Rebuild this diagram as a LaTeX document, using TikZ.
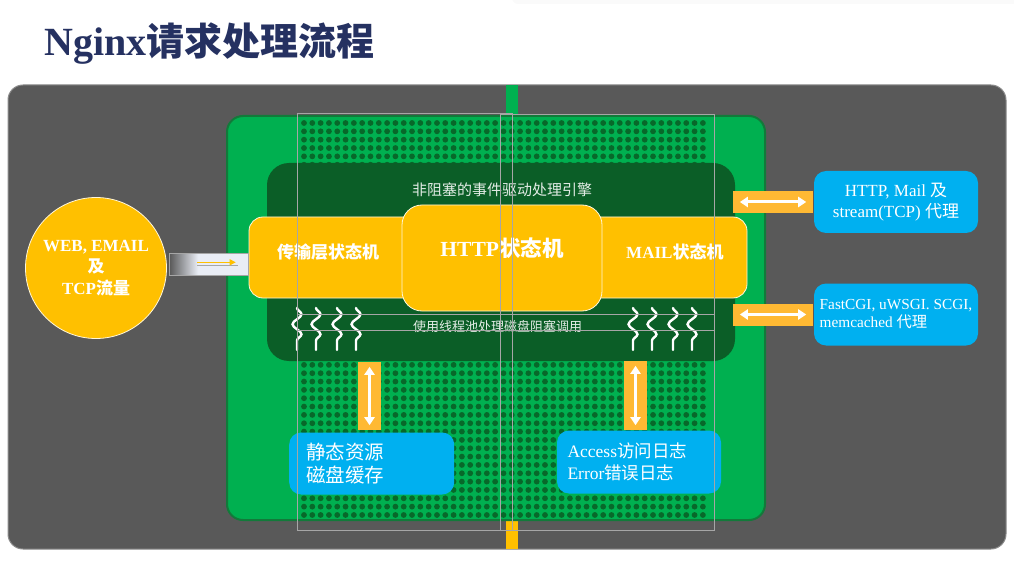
\documentclass[tikz,border=0pt]{standalone}
\usepackage{fontspec}
\setmainfont{Liberation Serif}
\newfontfamily\cjk{Noto Sans CJK SC}
\usepackage{xcolor}
\usepackage{tikz}
\usetikzlibrary{arrows.meta,shapes,decorations.pathmorphing,positioning}

\definecolor{bggray}{HTML}{595959}
\definecolor{nggreen}{HTML}{00B050}
\definecolor{edgegreen}{HTML}{127A3A}
\definecolor{dotgreen}{HTML}{08682A}
\definecolor{panelgreen}{HTML}{0B5E27}
\definecolor{ngyellow}{HTML}{FFC000}
\definecolor{barorange}{HTML}{FFB933}
\definecolor{ngblue}{HTML}{00B0F0}
\definecolor{titleblue}{HTML}{253161}
\definecolor{guidegray}{HTML}{A6A6A6}
\definecolor{lightbar}{HTML}{E9EDF5}

\pgfdeclarehorizontalshading{fadebar}{100bp}{color(0bp)=(bggray);
  color(25bp)=(bggray); color(43bp)=(lightbar); color(100bp)=(lightbar)}

\tikzset{
  ymachine/.style={fill=ngyellow, draw=white!85!ngyellow, line width=0.8pt,
    rounded corners=14pt, text=white},
  bluebox/.style={fill=ngblue, rounded corners=12pt, text=white},
  orbar/.style={fill=barorange, inner sep=0pt},
  dblarrow/.style={white, line width=3pt,
    {Triangle[width=10pt,length=8pt]}-{Triangle[width=10pt,length=8pt]}},
  wave/.style={white, line width=2.4pt, line cap=round, decorate,
    decoration={snake, segment length=20pt, amplitude=4.5pt}},
  guide/.style={guidegray, line width=0.8pt},
}

\begin{document}
\begin{tikzpicture}[x=1pt, y=-1pt]
    \useasboundingbox (0,0) rectangle (1014,561);
    % title and faint shadow top right
    \fill[black!2, rounded corners=6pt] (512,-8) rectangle (1020,4);
    \node[anchor=base west, text=titleblue, font=\bfseries] (title) at (41,56)
        {\fontsize{40}{48}\selectfont Nginx{\cjk\fontsize{38}{46}\selectfont 请求处理流程}};
    % dark background
    \filldraw[fill=bggray, draw=black!45, line width=1pt, rounded corners=15pt]
        (8,85) rectangle (1006,549);
    \fill[nggreen] (506,85) rectangle (518,116);
    \fill[ngyellow] (506,520) rectangle (518,549);
    % green board with dots
    \filldraw[fill=nggreen, draw=edgegreen, line width=2pt, rounded corners=16pt]
        (227,116) rectangle (765,520);
    \foreach \i in {0,...,48}
    \foreach \j in {0,...,47}
        \fill[dotgreen] ({304+8.31*\i},{123+8.34*\j}) circle (2.9pt);
    % event engine panel
    \fill[panelgreen, rounded corners=22pt] (267,163) rectangle (735,361);
    \node[text=white!88!panelgreen, font=\fontsize{15}{18}\selectfont\cjk]
        (enginetitle) at (502,190) {非阻塞的事件驱动处理引擎};
    \node[text=white!88!panelgreen, font=\fontsize{13}{16}\selectfont\cjk]
        (pooltitle) at (497.5,327) {使用线程池处理磁盘阻塞调用};
    \foreach \x in {297,316,337,356,633,652,673,692}
        \draw[wave] (\x,308) -- (\x,350);
    % state machines
    \node[ymachine, minimum width=171pt, minimum height=81pt, text width=115pt,
        inner xsep=28pt, align=left, text depth=13pt,
        font=\fontsize{17}{20}\selectfont\bfseries\cjk] (transport) at (334.5,257.5) {传输层状态机};
    \node[ymachine, minimum width=162pt, minimum height=81pt, text width=115pt,
        inner xsep=23.5pt, align=right, text depth=13pt,
        font=\fontsize{17}{20}\selectfont\bfseries] (mailsm) at (666,257.5) {MAIL{\cjk 状态机}};
    \node[ymachine, rounded corners=20pt, minimum width=200pt, minimum height=106pt,
        text depth=21pt, font=\fontsize{21.5}{26}\selectfont\bfseries]
        (httpsm) at (502,258) {HTTP{\cjk 状态机}};
    % incoming traffic
    \node[circle, fill=ngyellow, draw=white!85!ngyellow, line width=0.8pt,
        minimum size=141pt, text=white, align=center,
        font=\fontsize{17}{21.5}\selectfont\bfseries] (traffic) at (96,268)
        {WEB, EMAIL\\{\cjk 及}\\TCP{\cjk 流量}};
    \node[shade, shading=fadebar, draw=guidegray, minimum width=79pt,
        minimum height=22pt, inner sep=0pt] (inbar) at (209,264.3) {};
    \draw[guidegray, line width=1.2pt] ([xshift=-12pt,yshift=-1pt]inbar.center)
        -- ([xshift=-11pt,yshift=-1pt]inbar.east);
    \draw[ngyellow, line width=1.2pt, -{Triangle[width=6pt,length=6pt]}]
        ([xshift=-12pt,yshift=2pt]inbar.center) -- ([xshift=-13pt,yshift=2pt]inbar.east);
    % proxies
    \node[orbar, minimum width=80pt, minimum height=22pt] (webbar) at (773,202) {};
    \draw[dblarrow] ([xshift=7pt]webbar.west) -- ([xshift=-7pt]webbar.east);
    \node[orbar, minimum width=80pt, minimum height=22pt] (cgibar) at (773,314.5) {};
    \draw[dblarrow] ([xshift=7pt]cgibar.west) -- ([xshift=-7pt]cgibar.east);
    \node[bluebox, minimum width=164pt, minimum height=62pt, align=center,
        font=\fontsize{17}{21}\selectfont] (webproxy) at (896,202)
        {HTTP, Mail {\cjk 及}\\stream(TCP) {\cjk 代理}};
    \node[bluebox, minimum width=164pt, minimum height=62pt, align=left,
        font=\fontsize{15.3}{18}\selectfont] (cgiproxy) at (896,314.5)
        {FastCGI, uWSGI. SCGI,\\memcached {\cjk 代理}};
    % disk and logs
    \node[orbar, minimum width=23pt, minimum height=68pt] (diskbar) at (369.5,396) {};
    \draw[dblarrow] ([yshift=-5pt]diskbar.north) -- ([yshift=5pt]diskbar.south);
    \node[orbar, minimum width=23pt, minimum height=69pt] (logbar) at (635.5,395.5) {};
    \draw[dblarrow] ([yshift=-5pt]logbar.north) -- ([yshift=5pt]logbar.south);
    \node[bluebox, minimum width=165pt, minimum height=62pt, text width=131pt,
        inner xsep=17pt, align=left, font=\fontsize{19.5}{23.5}\selectfont\cjk]
        (staticfiles) at (371.7,463.5) {静态资源\\磁盘缓存};
    \node[bluebox, minimum width=164pt, minimum height=63pt, text width=143pt,
        inner xsep=10.5pt, align=left, font=\fontsize{17.5}{22}\selectfont]
        (logfiles) at (639,462) {Access{\cjk 访问日志}\\Error{\cjk 错误日志}};
    % guide frames
    \draw[guide] (297,113) rectangle (512,530);
    \draw[guide] (500,114) rectangle (714,530);
    \draw[guide] (297,314) -- (714,314);
    \draw[guide] (297,330) -- (714,330);
\end{tikzpicture}
\end{document}
